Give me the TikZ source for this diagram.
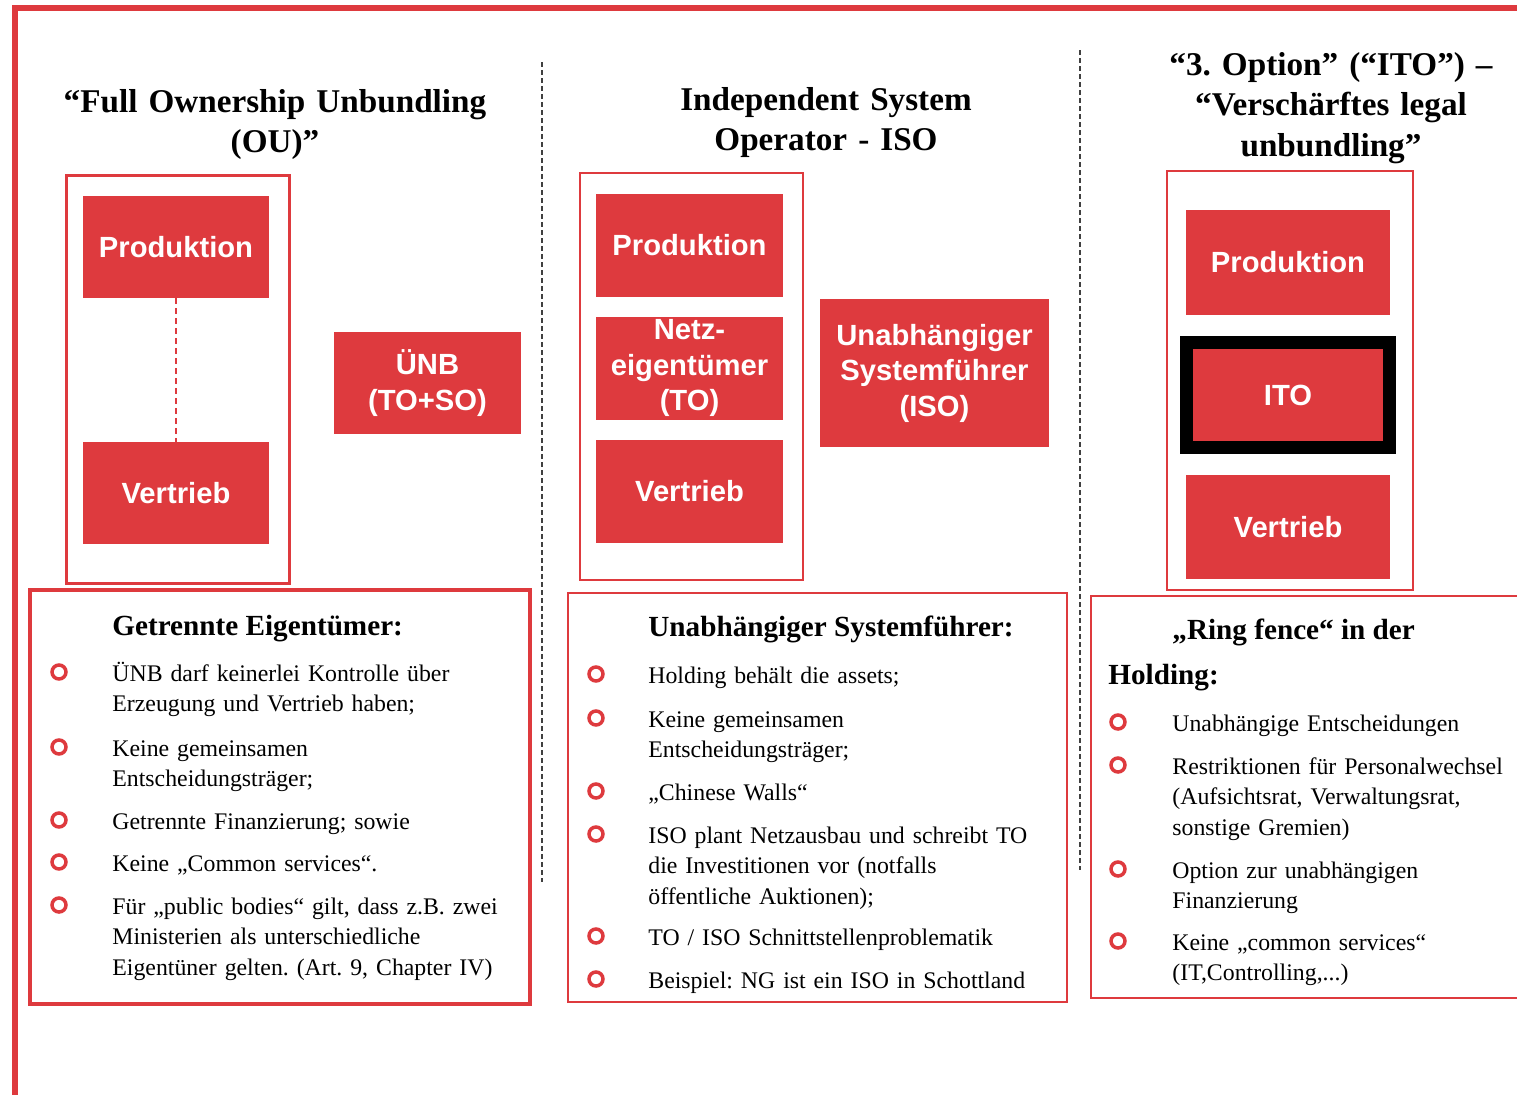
\documentclass[tikz,border=0pt]{standalone}
\usepackage{fontspec}
\setmainfont{Liberation Serif}
\newfontfamily\boxfont{Liberation Sans}
\frenchspacing
\definecolor{ured}{RGB}{222,58,62}
\tikzset{%
  redbox/.style    = {shape=rectangle, fill=ured, inner sep=0pt, align=center,%
                      text=white, font=\boxfont\bfseries\fontsize{14.6}{17.75}\selectfont},%
  outerbox/.style  = {shape=rectangle, draw=ured, inner sep=0pt},%
  listbox/.style   = {shape=rectangle, draw=ured, inner sep=0pt},%
  titletext/.style = {anchor=base, inner sep=0pt, text width=300pt, align=center,%
                      font=\bfseries\fontsize{16.6}{20.25}\selectfont},%
  headtext/.style  = {anchor=base west, inner sep=0pt,%
                      font=\bfseries\fontsize{14.6}{16}\selectfont},%
  itemtext/.style  = {anchor=base west, inner sep=0pt, text width=220pt, align=left,%
                      font=\fontsize{11.9}{15.25}\selectfont},%
  ring/.style      = {circle, draw=ured, line width=1.75pt, inner sep=0pt,%
                      minimum size=7pt},%
  sepline/.style   = {draw=black!75, line width=0.7pt, dash pattern=on 2.5pt off 1.5pt}%
}
\begin{document}
\begin{tikzpicture}[x=0.5pt, y=-0.5pt]%
	\useasboundingbox (0,0) rectangle (1517,1094);
	% outer red frame, cut off at the page edge
	\coordinate (fbl) at (15,1120);
	\coordinate (ftl) at (15,8);
	\coordinate (ftr) at (1540,8);
	\draw[ured, line width=3.25pt] (fbl) -- (ftl) -- (ftr);
	% dashed separators
	\coordinate (sepa1) at (542,62);
	\coordinate (sepa2) at (542,882);
	\coordinate (sepb1) at (1080,50);
	\coordinate (sepb2) at (1080,870);
	\draw[sepline] (sepa1) -- (sepa2);
	\draw[sepline] (sepb1) -- (sepb2);
	%
	% column 1: ownership unbundling
	\node[titletext] (titleou) at (275,112) {“Full Ownership Unbundling\\(OU)”};
	\node[outerbox, line width=1.5pt, minimum width=111.5pt, minimum height=204pt]%
		(frameou) at (177.5,379) {};
	\node[redbox, minimum width=93pt, minimum height=51pt] (prodou) at (176,247) {Produktion};
	\node[redbox, minimum width=93pt, minimum height=51pt] (vertou) at (176,493) {Vertrieb};
	\draw[ured, line width=0.6pt, dash pattern=on 3pt off 2pt] (prodou) -- (vertou);
	\node[redbox, minimum width=93.5pt, minimum height=51pt] (unb) at (427.5,383) {ÜNB\\(TO+SO)};
	\node[listbox, line width=2.25pt, minimum width=250pt, minimum height=207pt]%
		(listou) at (280,797) {};
	\node[headtext] (headou) at (112,635) {Getrennte Eigentümer:};
	\node[ring] (rou1) at (59,672) {};
	\node[itemtext] (iou1) at (112,681) {ÜNB darf keinerlei Kontrolle über\\Erzeugung und Vertrieb haben;};
	\node[ring] (rou2) at (59,747) {};
	\node[itemtext] (iou2) at (112,756) {Keine gemeinsamen\\Entscheidungsträger;};
	\node[ring] (rou3) at (59,820) {};
	\node[itemtext] (iou3) at (112,829) {Getrennte Finanzierung; sowie};
	\node[ring] (rou4) at (59,862) {};
	\node[itemtext] (iou4) at (112,871) {Keine „Common services“.};
	\node[ring] (rou5) at (59,905) {};
	\node[itemtext] (iou5) at (112,914) {Für „public bodies“ gilt, dass z.B. zwei\\Ministerien als unterschiedliche\\Eigentüner gelten. (Art. 9, Chapter IV)};
	%
	% column 2: independent system operator
	\node[titletext] (titleiso) at (826,110) {Independent System\\Operator - ISO};
	\node[outerbox, line width=1pt, minimum width=111.5pt, minimum height=203.5pt]%
		(frameiso) at (691.5,376.5) {};
	\node[redbox, minimum width=93.5pt, minimum height=51.5pt] (prodiso) at (689.5,245.5) {Produktion};
	\node[redbox, minimum width=93.5pt, minimum height=51.5pt] (netz) at (689.5,368) {Netz-\\eigentümer\\(TO)};
	\node[redbox, minimum width=93.5pt, minimum height=51.5pt] (vertiso) at (689.5,491.5) {Vertrieb};
	\node[redbox, minimum width=114.5pt, minimum height=74pt] (iso) at (934.5,373) {Unabhängiger\\Systemführer\\(ISO)};
	\node[listbox, line width=0.9pt, minimum width=249.5pt, minimum height=204.5pt]%
		(listiso) at (817.5,797.5) {};
	\node[headtext] (headiso) at (648,636) {Unabhängiger Systemführer:};
	\node[ring] (riso1) at (596,674) {};
	\node[itemtext] (iiso1) at (648,683) {Holding behält die assets;};
	\node[ring] (riso2) at (596,718) {};
	\node[itemtext] (iiso2) at (648,727) {Keine gemeinsamen\\Entscheidungsträger;};
	\node[ring] (riso3) at (596,791) {};
	\node[itemtext] (iiso3) at (648,800) {„Chinese Walls“};
	\node[ring] (riso4) at (596,834) {};
	\node[itemtext] (iiso4) at (648,843) {ISO plant Netzausbau und schreibt TO\\die Investitionen vor (notfalls\\öffentliche Auktionen);};
	\node[ring] (riso5) at (596,936) {};
	\node[itemtext] (iiso5) at (648,945) {TO / ISO Schnittstellenproblematik};
	\node[ring] (riso6) at (596,979) {};
	\node[itemtext] (iiso6) at (648,988) {Beispiel: NG ist ein ISO in Schottland};
	%
	% column 3: third option (ITO)
	\node[titletext] (titleito) at (1331,75) {“3. Option” (“ITO”) –\\“Verschärftes legal\\unbundling”};
	\node[outerbox, line width=1pt, minimum width=123pt, minimum height=209.5pt]%
		(frameito) at (1290,380.5) {};
	\node[redbox, minimum width=102pt, minimum height=52.5pt] (prodito) at (1288,262.5) {Produktion};
	\node[redbox, draw=black, line width=6.5pt, minimum width=101.5pt, minimum height=52.5pt]%
		(ito) at (1288,395) {ITO};
	\node[redbox, minimum width=102pt, minimum height=52pt] (vertito) at (1288,527) {Vertrieb};
	\node[listbox, line width=0.9pt, minimum width=234.5pt, minimum height=201pt]%
		(listito) at (1325.5,797) {};
	\node[headtext] (headito) at (1172,639) {„Ring fence“ in der};
	\node[headtext] (headito2) at (1108,684) {Holding:};
	\node[ring] (rito1) at (1118,722) {};
	\node[itemtext] (iito1) at (1172,731) {Unabhängige Entscheidungen};
	\node[ring] (rito2) at (1118,765) {};
	\node[itemtext] (iito2) at (1172,774) {Restriktionen für Personalwechsel\\(Aufsichtsrat, Verwaltungsrat,\\sonstige Gremien)};
	\node[ring] (rito3) at (1118,869) {};
	\node[itemtext] (iito3) at (1172,878) {Option zur unabhängigen\\Finanzierung};
	\node[ring] (rito4) at (1118,941) {};
	\node[itemtext] (iito4) at (1172,950) {Keine „common services“\\(IT,Controlling,...)};
\end{tikzpicture}
\end{document}
